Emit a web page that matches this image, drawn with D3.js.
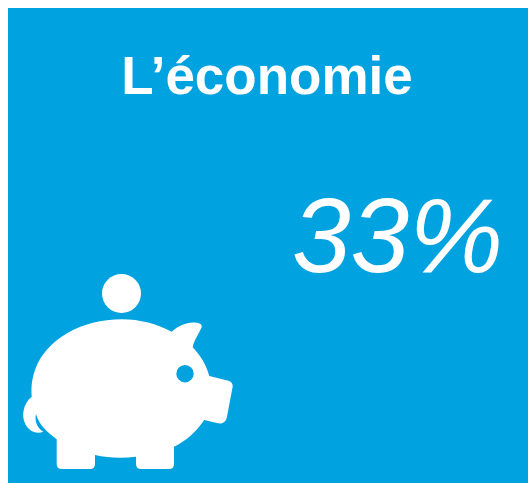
<!DOCTYPE html>
<html>
<head>
<meta charset="utf-8">
<script src="https://cdn.jsdelivr.net/npm/d3@7"></script>
<style>html,body{margin:0;padding:0;background:#fff;overflow:hidden}svg{display:block}</style>
</head>
<body>
<div id="chart"></div>
<script>
const titles = ["L’économie"];
const values = [33];
const formatValue = v => v + "%";

const blue = "#00a2e0";
const svg = d3.select("#chart").append("svg").attr("width", 528).attr("height", 483);
svg.append("rect").attr("x", 8).attr("y", 8).attr("width", 520).attr("height", 475).attr("fill", blue);

svg.selectAll("text.title").data(titles).join("text").attr("class", "title")
  .attr("x", 267).attr("y", 94).attr("text-anchor", "middle")
  .attr("font-family", "'Liberation Sans', Arial, sans-serif").attr("font-weight", "bold").attr("font-size", 53)
  .attr("fill", "#fff").text(d => d);

svg.selectAll("text.value").data(values).join("text").attr("class", "value")
  .attr("x", 397.5).attr("y", 272).attr("text-anchor", "middle")
  .attr("font-family", "'Liberation Sans', Arial, sans-serif").attr("font-style", "italic").attr("font-size", 105.5)
  .attr("fill", "#fff").text(formatValue);

// Piggy bank pictogram
const icon = svg.append("g").attr("fill", "#fff");
icon.append("circle").attr("cx", 121.5).attr("cy", 293.5).attr("r", 19.5);
icon.append("path").attr("fill-rule", "evenodd").attr("d",
  "M121.7 319.3 C140 319.3 157 324 171.7 331.7 C178 326 186 322.5 193 322.5 " +
  "C198 322.5 202.5 323.5 201.7 327 C199 334 194 340 192.7 347.3 " +
  "C200 355 206.5 365 209.3 376 L228.5 380.8 C231.5 381.8 233 384 232.7 386.5 " +
  "L226.7 418 C225.5 422.5 221.5 424 218 423.3 L204.3 420 " +
  "C196 432 186 441 174 446.7 L174 464 Q174 469 169 469 L141 469 Q136 469 136 464 L136 456.7 " +
  "C122 458.5 108 458 95 455 L95 464 Q95 469 90 469 L61.7 469 Q56.7 469 56.7 464 L56.7 439.3 " +
  "C47 432 39 425 36 414 C34.5 421 37 428 43.3 431.7 C39 433.5 33 433 28.5 428.5 " +
  "C24 424 22.5 417 23.5 411 C24.5 405 27.5 400 31.7 396.7 " +
  "C31 386 32 379 35 370 C46 339 82 319.3 121.7 319.3 Z " +
  "M185 365 a8.7 8.7 0 1 0 0.01 17.4 a8.7 8.7 0 1 0 -0.01 -17.4 Z");
</script>
</body>
</html>
